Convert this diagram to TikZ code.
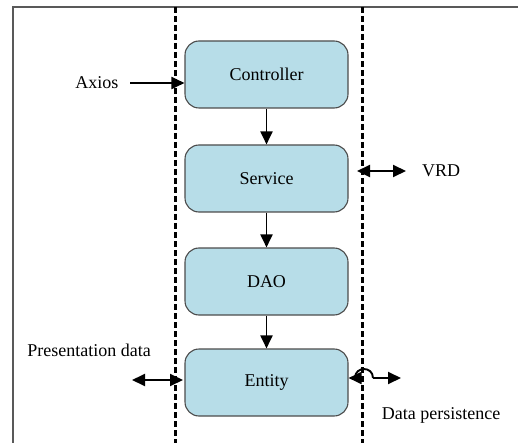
\documentclass[tikz,border=0pt]{standalone}
\usepackage{fontspec}
\setmainfont{Liberation Serif}
\newfontfamily\tnr{Liberation Serif}
\usetikzlibrary{arrows.meta}
\definecolor{boxfill}{HTML}{B7DDE8}
\tikzset{
  layer/.style={draw=black!70, line width=1.1pt, fill=boxfill, rounded corners=14pt,
    minimum width=163pt, minimum height=67pt, text=black, font=\tnr\fontsize{18}{21}\selectfont},
  lbl/.style={font=\tnr\fontsize{18}{21}\selectfont, inner sep=0pt},
  tip/.tip={Triangle[length=13pt,width=12pt]},
  conn/.style={line width=1.9pt, -tip},
  dconn/.style={line width=1.9pt, tip-tip},
  bconn/.style={line width=1.9pt, tip-},
  tier/.style={line width=3pt, dash pattern=on 6pt off 3pt}
}
\begin{document}
\begin{tikzpicture}[x=1pt,y=-1pt]
\useasboundingbox (0,0) rectangle (518,443);
% frame
\draw[black!65, line width=1.2pt] (13,443) -- (13,7) -- (518,7);
% tier boundaries
\draw[tier] (175,7) -- (175,443);
\draw[tier] (362.5,7) -- (362.5,443);
% layers
\node[layer] (ctrl) at (266.5,74.5) {Controller};
\node[layer] (svc) at (266.5,178.5) {Service};
\node[layer] (dao) at (266.5,281.5) {DAO};
\node[layer] (ent) at (266.5,382.5) {Entity};
\draw[conn] (ctrl) -- (svc);
\draw[conn] (svc) -- (dao);
\draw[conn] (dao) -- (ent);
% labels
\node[lbl] (axios) at (97,83) {Axios};
\node[lbl] (vrd) at (441,171) {VRD};
\node[lbl] (pres) at (89,350) {Presentation data};
\node[lbl] (pers) at (441,415) {Data persistence};
% side arrows
\coordinate (axs) at (130,83);
\draw[conn] (axs) -- (ctrl.west |- axs);
\coordinate (vl) at (357,171);
\coordinate (vr) at (406,171);
\draw[dconn] (vl) -- (vr);
\coordinate (pl) at (132,380);
\coordinate (pr) at (183,380);
\draw[dconn] (pl) -- (pr);
\coordinate (ha) at (355,378);
\coordinate (hb) at (373,378);
\coordinate (he) at (401,378);
\draw[bconn] (ent.east |- ha) -- (ha) .. controls (355,366) and (373,366) .. (hb);
\draw[conn] (hb) -- (he);
\end{tikzpicture}
\end{document}
